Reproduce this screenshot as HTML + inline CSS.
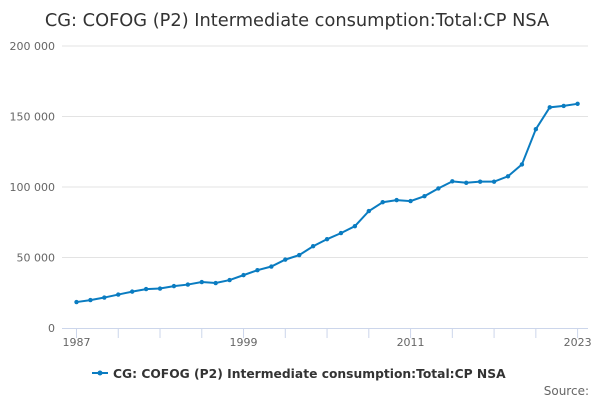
<!DOCTYPE html>
<html><head><meta charset="utf-8"><style>
body{margin:0;background:#fff;font-family:"DejaVu Sans",sans-serif}
</style></head><body>
<svg id="c" width="600" height="400" xmlns="http://www.w3.org/2000/svg" font-family="DejaVu Sans, sans-serif">
<text x="297" y="26" text-anchor="middle" font-size="17.8" fill="#333">CG: COFOG (P2) Intermediate consumption:Total:CP NSA</text>
<g id="grid"></g><g id="xax"></g><g id="plot"></g>
<g>
<line x1="92" y1="373" x2="108" y2="373" stroke="#0a7cc1" stroke-width="2"/>
<circle cx="100" cy="373" r="2.5" fill="#0a7cc1"/>
<text x="113" y="378" font-size="12.3" font-weight="bold" fill="#333">CG: COFOG (P2) Intermediate consumption:Total:CP NSA</text>
</g>
<text x="589" y="395" text-anchor="end" font-size="12" fill="#666">Source:</text>
</svg>
<script>
const years=[];for(let y=1987;y<=2023;y++)years.push(y);
const values=[18400,19800,21600,23700,25800,27600,28000,29700,30800,32600,31900,34000,37500,41000,43600,48500,51700,58000,63000,67300,72200,82900,89200,90700,90000,93500,99000,104000,103000,103800,103800,107600,116000,141000,156500,157500,159000];
const yTicks=[0,50000,100000,150000,200000];
const yTickLabels=["0","50 000","100 000","150 000","200 000"];
const xLabels=[1987,1999,2011,2023];
const NS="http://www.w3.org/2000/svg";
const x=v=>76.5+(v-1987)*(577.6-76.5)/36;
const y=v=>328-v*(328-46)/200000;
function mk(t,a,p){const e=document.createElementNS(NS,t);for(const k in a)e.setAttribute(k,a[k]);p.appendChild(e);return e;}
const g=document.getElementById('grid');
yTicks.forEach((t,i)=>{
 if(t>0){const l=mk('line',{x1:62,x2:588,y1:y(t),y2:y(t),stroke:'#e3e3e3'},g);
 
 }
 const tx=mk('text',{x:55,y:y(t)+4,'text-anchor':'end','font-size':11,fill:'#666'},g);tx.textContent=yTickLabels[i];
 
 
});
const xa=document.getElementById('xax');
const ax=mk('line',{x1:62,x2:588,y1:328.5,y2:328.5,stroke:'#ccd6eb'},xa);


for(let yr=1987;yr<=2023;yr+=3){const t=mk('line',{x1:x(yr),x2:x(yr),y1:328,y2:338,stroke:'#ccd6eb'},xa);
 
 }
xLabels.forEach(v=>{const t=mk('text',{x:x(v),y:346,'text-anchor':'middle','font-size':11,fill:'#666'},xa);t.textContent=v;
 
 });
const p=document.getElementById('plot');
const path=mk('path',{d:values.map((v,i)=>(i?'L':'M')+x(years[i])+' '+y(v)).join(''),fill:'none',stroke:'#0a7cc1','stroke-width':2},p);


values.forEach((v,i)=>{const c=mk('circle',{cx:x(years[i]),cy:y(v),r:2.2,fill:'#0a7cc1'},p);
 
 });
</script>
</body></html>
